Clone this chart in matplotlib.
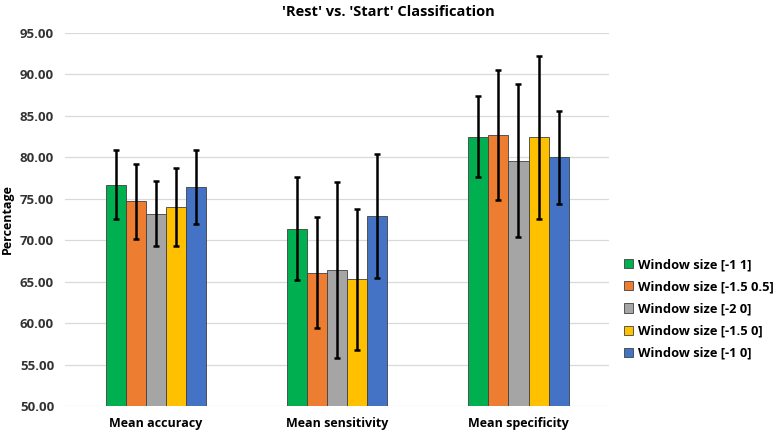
import matplotlib.pyplot as plt
import numpy as np

plt.rcParams['font.family'] = ['Open Sans', 'DejaVu Sans']

categories = ['Mean accuracy', 'Mean sensitivity', 'Mean specificity']
series = ['Window size [-1 1]', 'Window size [-1.5 0.5]', 'Window size [-2 0]',
          'Window size [-1.5 0]', 'Window size [-1 0]']
colors = ['#00B050', '#ED7D31', '#A5A5A5', '#FFC000', '#4472C4']

# rows follow series, columns follow categories
means = [
    [76.7, 71.4, 82.5],
    [74.7, 66.1, 82.7],
    [73.2, 66.4, 79.6],
    [74.0, 65.3, 82.4],
    [76.4, 72.9, 80.0],
]
errors = [
    [4.2, 6.2, 4.9],
    [4.5, 6.7, 7.8],
    [3.9, 10.6, 9.2],
    [4.7, 8.5, 9.8],
    [4.5, 7.5, 5.6],
]

fig = plt.figure(figsize=(7.76, 4.34), dpi=100)
ax = fig.add_axes([0.084, 0.0645, 0.701, 0.8595])

x = np.arange(len(categories))
w = 0.111
for i in range(len(series)):
    pos = x + (i - 2) * w
    ax.bar(pos, means[i], width=w, color=colors[i], edgecolor='#404040',
           linewidth=0.6, label=series[i], zorder=2)
    ax.errorbar(pos, means[i], yerr=errors[i], fmt='none', ecolor='black',
                elinewidth=1.8, capsize=2.2, capthick=1.8, zorder=3)

ax.set_ylim(50, 95)
ax.set_xlim(-0.5, 2.5)
ax.set_yticks(np.arange(50, 95.1, 5))
ax.set_yticklabels(['%.2f' % v for v in np.arange(50, 95.1, 5)],
                   fontsize=9.5, fontweight='bold', color='#333333')
ax.set_xticks(x)
ax.set_xticklabels(categories, fontsize=9, fontweight='bold')
ax.tick_params(length=0, pad=8)
ax.grid(axis='y', color='#D9D9D9', linewidth=0.9, zorder=0)
for s in ax.spines.values():
    s.set_visible(False)
ax.set_ylabel('Percentage', fontsize=9, fontweight='bold', labelpad=4)
fig.text(0.5, 0.972, "'Rest' vs. 'Start' Classification", fontsize=10.5,
         fontweight='bold', ha='center', va='center')

ax.legend(loc='center left', bbox_to_anchor=(1.005, 0.26), frameon=False,
          prop={'weight': 'bold', 'size': 9.3}, handlelength=0.7,
          handleheight=0.7, handletextpad=0.45, labelspacing=0.7)

fig.savefig('out.png', dpi=100)
